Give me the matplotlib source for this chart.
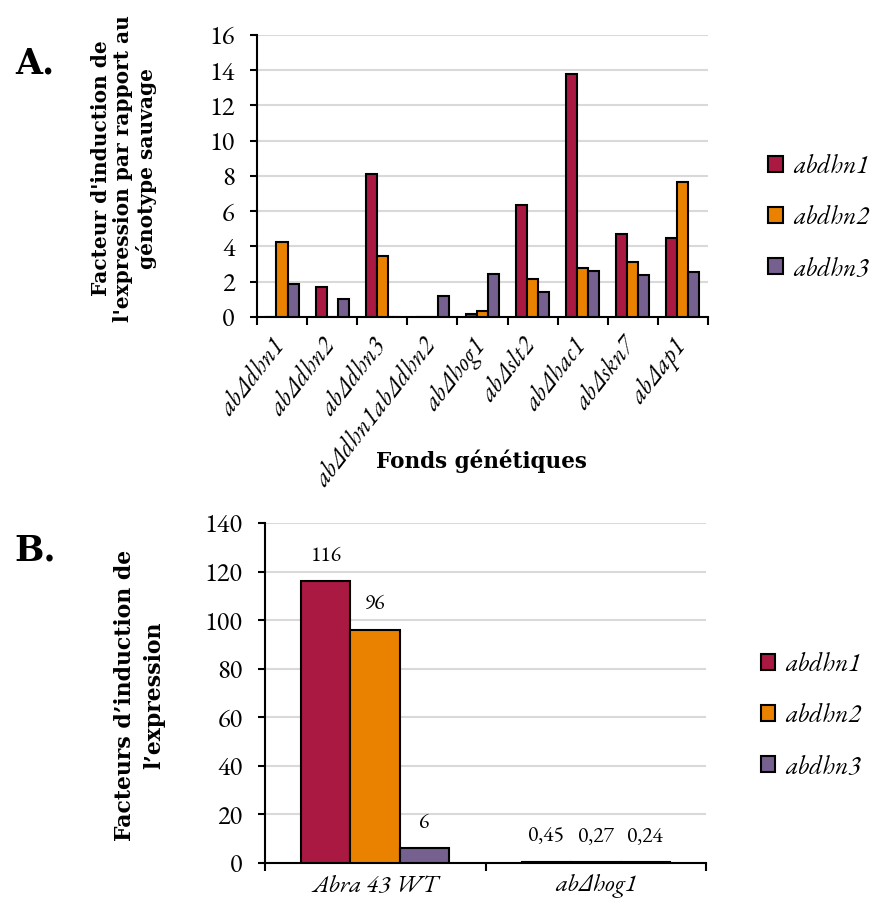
import matplotlib
matplotlib.use("Agg")
import matplotlib.pyplot as plt
import numpy as np
from matplotlib.patches import Patch

# Typefaces: Garamond for plain/italic text, a heavy serif for bold titles
SERIF = ["EB Garamond", "Liberation Serif", "DejaVu Serif"]
BOLD = ["DejaVu Serif"]
plt.rcParams['font.family'] = SERIF

# Panel A data
genotypes_a = ["abΔdhn1", "abΔdhn2", "abΔdhn3", "abΔdhn1abΔdhn2", "abΔhog1",
               "abΔslt2", "abΔhac1", "abΔskn7", "abΔap1"]
dhn1_a = [0.02, 1.7, 8.1, 0.02, 0.15, 6.35, 13.8, 4.72, 4.47]
dhn2_a = [4.28, 0.02, 3.48, 0.02, 0.35, 2.15, 2.75, 3.13, 7.63]
dhn3_a = [1.88, 1.0, 0.02, 1.18, 2.43, 1.43, 2.6, 2.38, 2.55]
yticks_a = [0, 2, 4, 6, 8, 10, 12, 14, 16]

# Panel B data
genotypes_b = ["Abra 43 WT", "abΔhog1"]
dhn1_b = [116, 0.45]
dhn2_b = [96, 0.27]
dhn3_b = [6, 0.24]
labels_b = [["116", "96", "6"], ["0,45", "0,27", "0,24"]]
yticks_b = [0, 20, 40, 60, 80, 100, 120, 140]

series_names = ["abdhn1", "abdhn2", "abdhn3"]
colors = ["#A91942", "#EA8200", "#75608F"]

fig = plt.figure(figsize=(8.74, 9.23), dpi=100)

def style_axes(ax, ymax, yticks, ncat):
    ax.set_ylim(0, ymax)
    ax.set_xlim(-0.5, ncat - 0.5)
    ax.set_yticks(yticks)
    ax.set_xticks(np.arange(ncat + 1) - 0.5)
    ax.set_xticklabels([])
    ax.yaxis.grid(True, color="#d9d9d9", linewidth=1.5)
    ax.set_axisbelow(True)
    for s in ["top", "right"]:
        ax.spines[s].set_visible(False)
    for s in ["left", "bottom"]:
        ax.spines[s].set_linewidth(1.5)
    ax.tick_params(axis="y", direction="out", width=1.5, length=5, pad=11,
                   labelsize=19, colors="black")
    ax.tick_params(axis="x", direction="out", width=1.5, length=6)

def add_legend(ax, anchor):
    handles = [Patch(facecolor=c, edgecolor="black", linewidth=1.5) for c in colors]
    ax.legend(handles, series_names, loc="upper left", bbox_to_anchor=anchor,
              frameon=False, handlelength=0.56, handleheight=0.56,
              handletextpad=0.4, labelspacing=0.93,
              prop={"family": SERIF, "style": "italic", "size": 18.5})

# ---- Panel A ----
axA = fig.add_axes([0.294, 0.6566, 0.516, 0.3055])
w = 0.22
x = np.arange(len(genotypes_a))
for i, vals in enumerate([dhn1_a, dhn2_a, dhn3_a]):
    axA.bar(x + (i - 1) * w, vals, width=w, color=colors[i],
            edgecolor="black", linewidth=1.5, zorder=3)
style_axes(axA, 16, yticks_a, len(genotypes_a))
for xi, lab in zip(x, genotypes_a):
    axA.text(xi - 0.22, -0.95, lab, rotation=52, ha="right", va="top",
             rotation_mode="anchor", style="italic", fontsize=18.5)
axA.text(0.497, -0.51, "Fonds génétiques", transform=axA.transAxes,
         ha="center", va="center", fontsize=15.5, fontweight="bold", family=BOLD)
axA.set_ylabel("Facteur d'induction de\nl'expression par rapport au\ngénotype sauvage",
               fontsize=14.5, fontweight="bold", family=BOLD, linespacing=1.15,
               va="center")
axA.yaxis.set_label_coords(-0.295, 0.528)
add_legend(axA, (1.083, 0.660))

# ---- Panel B ----
axB = fig.add_axes([0.303, 0.065, 0.505, 0.3684])
wb = 0.224
xb = np.arange(len(genotypes_b))
for i, vals in enumerate([dhn1_b, dhn2_b, dhn3_b]):
    bars = axB.bar(xb + (i - 1) * wb, vals, width=wb, color=colors[i],
                   edgecolor="black", linewidth=1.5, zorder=3)
    for j, b in enumerate(bars):
        axB.text(b.get_x() + b.get_width() / 2, vals[j] + 6, labels_b[j][i],
                 ha="center", va="bottom", fontsize=15.5)
style_axes(axB, 140, yticks_b, len(genotypes_b))
for xi, lab in zip(xb, genotypes_b):
    axB.text(xi, -4.5, lab, ha="center", va="top", style="italic", fontsize=18)
axB.set_ylabel("Facteurs d\u2019induction de\nl\u2019expression",
               fontsize=15.8, fontweight="bold", family=BOLD, linespacing=1.45,
               va="center")
axB.yaxis.set_label_coords(-0.283, 0.494)
add_legend(axB, (1.071, 0.688))

fig.text(0.017, 0.931, "A.", fontsize=25, fontweight="bold", va="center", family=BOLD)
fig.text(0.017, 0.404, "B.", fontsize=25, fontweight="bold", va="center", family=BOLD)

fig.savefig("out.png", dpi=100)
